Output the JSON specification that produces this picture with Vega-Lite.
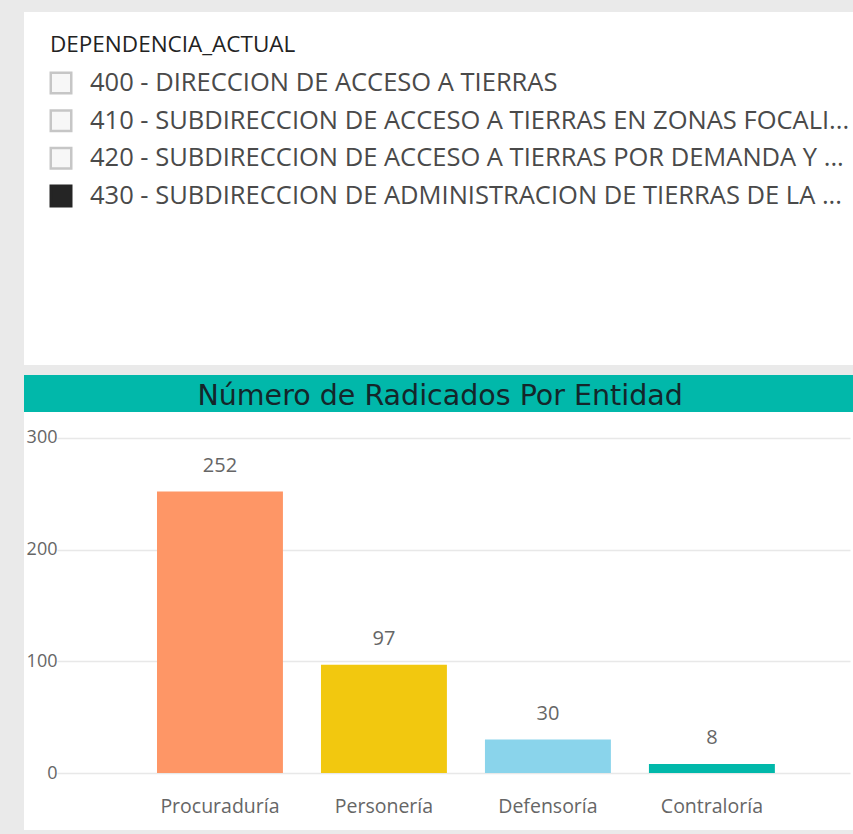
{
  "$schema": "https://vega.github.io/schema/vega-lite/v6.json",
  "background": "#eaeaea",
  "padding": {"left": 24, "top": 12, "right": 0, "bottom": 4},
  "config": {"view": {"stroke": null}, "font": "Open Sans"},
  "spacing": 10,
  "bounds": "flush",
  "vconcat": [
    {
      "width": 829,
      "height": 353,
      "view": {"fill": "white", "stroke": null},
      "data": {"values": [
        {"row": 1, "label": "400 - DIRECCION DE ACCESO A TIERRAS", "selected": "no"},
        {"row": 2, "label": "410 - SUBDIRECCION DE ACCESO A TIERRAS EN ZONAS FOCALI...", "selected": "no"},
        {"row": 3, "label": "420 - SUBDIRECCION DE ACCESO A TIERRAS POR DEMANDA Y ...", "selected": "no"},
        {"row": 4, "label": "430 - SUBDIRECCION DE ADMINISTRACION DE TIERRAS DE LA ...", "selected": "yes"}
      ]},
      "layer": [
        {
          "data": {"values": [{"row": 0, "label": "DEPENDENCIA_ACTUAL"}]},
          "mark": {"type": "text", "align": "left", "baseline": "middle", "dx": -11, "fontSize": 22.5, "color": "#222222", "font": "Open Sans"},
          "encoding": {
            "x": {"datum": 0, "type": "quantitative", "scale": {"domain": [-1.276, 27.31], "nice": false, "zero": false}, "axis": null},
            "y": {"field": "row", "type": "quantitative", "scale": {"domain": [-0.884, 8.487], "reverse": true, "nice": false, "zero": false}, "axis": null},
            "text": {"field": "label"}
          }
        },
        {
          "mark": {"type": "point", "shape": "square", "size": 420, "strokeWidth": 2.5, "filled": true, "opacity": 1},
          "encoding": {
            "x": {"datum": 0, "type": "quantitative"},
            "y": {"field": "row", "type": "quantitative"},
            "fill": {"field": "selected", "type": "nominal", "scale": {"domain": ["no", "yes"], "range": ["#f7f7f7", "#252525"]}, "legend": null},
            "stroke": {"field": "selected", "type": "nominal", "scale": {"domain": ["no", "yes"], "range": ["#c6c6c6", "#252525"]}, "legend": null}
          }
        },
        {
          "mark": {"type": "text", "align": "left", "baseline": "middle", "fontSize": 25.5, "color": "#4a4a4a", "font": "Open Sans"},
          "encoding": {
            "x": {"datum": 1, "type": "quantitative"},
            "y": {"field": "row", "type": "quantitative"},
            "text": {"field": "label"}
          }
        }
      ]
    },
    {
      "spacing": 0,
      "bounds": "flush",
      "vconcat": [
        {
          "width": 829,
          "height": 37,
          "view": {"fill": "#01B8AA", "stroke": null},
          "data": {"values": [{"t": "Número de Radicados Por Entidad"}]},
          "mark": {"type": "text", "align": "center", "baseline": "middle", "dy": 2, "fontSize": 28.5, "color": "#14262a", "font": "DejaVu Sans"},
          "encoding": {
            "x": {"datum": 0.502, "type": "quantitative", "scale": {"domain": [0, 1]}, "axis": null},
            "y": {"datum": 0.5, "type": "quantitative", "scale": {"domain": [0, 1]}, "axis": null},
            "text": {"field": "t"}
          }
        },
        {
          "width": 829,
          "height": 418,
          "view": {"fill": "white", "stroke": null},
          "data": {"values": [
            {"entidad": "Procuraduría", "radicados": 252},
            {"entidad": "Personería", "radicados": 97},
            {"entidad": "Defensoría", "radicados": 30},
            {"entidad": "Contraloría", "radicados": 8}
          ]},
          "encoding": {
            "x": {
              "field": "entidad", "type": "nominal", "sort": null,
              "scale": {"range": [33, 826], "paddingInner": 0.232, "paddingOuter": 0.534, "align": 0.571},
              "axis": {"title": null, "domain": false, "ticks": false, "tickSize": 0, "labelPadding": -24, "labelAngle": 0, "labelBaseline": "middle", "labelFont": "Open Sans", "labelFontSize": 19.5, "labelColor": "#666666", "grid": false}
            },
            "y": {
              "field": "radicados", "type": "quantitative",
              "scale": {"domain": [-51.04, 323.28], "nice": false, "zero": false},
              "axis": {"title": null, "values": [0, 100, 200, 300], "domain": false, "ticks": false, "tickSize": 0, "labelPadding": -33, "labelAlign": "right", "labelBaseline": "middle", "labelFont": "Open Sans", "labelFontSize": 18, "labelColor": "#666666", "grid": true, "gridColor": "#e8e8e8", "gridWidth": 1.5}
            }
          },
          "layer": [
            {
              "mark": {"type": "bar"},
              "encoding": {
                "color": {"field": "entidad", "type": "nominal", "scale": {"domain": ["Procuraduría", "Personería", "Defensoría", "Contraloría"], "range": ["#FE9666", "#F2C80F", "#8AD4EB", "#01B8AA"]}, "legend": null}
              }
            },
            {
              "mark": {"type": "text", "dy": -26, "baseline": "middle", "fontSize": 20, "color": "#666666", "font": "Open Sans"},
              "encoding": {"text": {"field": "radicados", "type": "quantitative"}}
            }
          ]
        }
      ]
    }
  ]
}
